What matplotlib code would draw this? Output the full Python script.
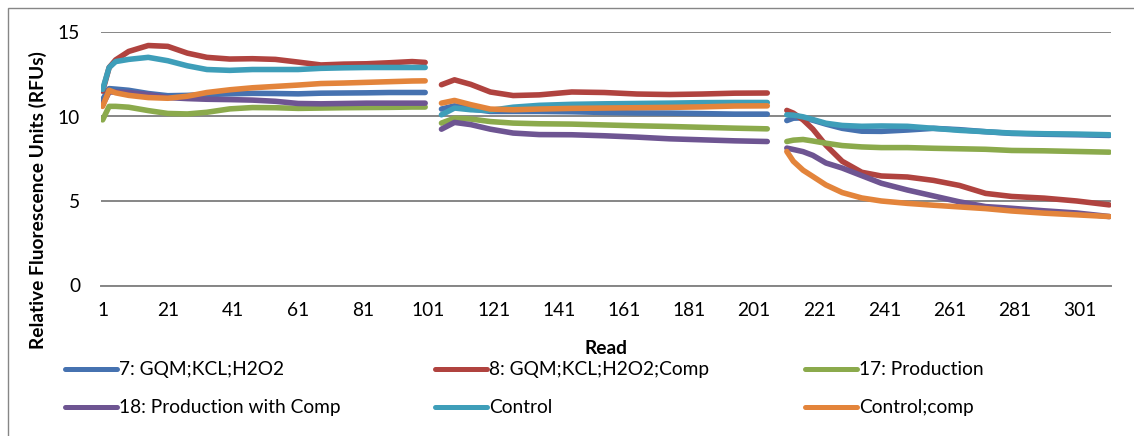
import matplotlib.pyplot as plt
from matplotlib.lines import Line2D

plt.rcParams['font.family'] = ['Lato', 'DejaVu Sans']

W, H = 1134, 436

# read numbers sampled along each of the three measurement blocks
reads_a = [1, 3, 5, 9, 15, 21, 27, 33, 40, 47, 54, 61, 68, 75, 82, 89, 96, 100]
reads_b = [105, 109, 114, 120, 127, 135, 145, 155, 165, 175, 185, 195, 205]
reads_c = [211, 213, 216, 219, 223, 228, 234, 240, 248, 256, 264, 272, 280, 290, 300, 310]

gqm_a = [11.0, 11.65, 11.62, 11.55, 11.36, 11.23, 11.25, 11.3, 11.34, 11.37, 11.36, 11.34, 11.38, 11.39, 11.4, 11.42, 11.42, 11.42]
gqm_b = [10.44, 10.63, 10.45, 10.3, 10.3, 10.3, 10.28, 10.24, 10.21, 10.2, 10.17, 10.14, 10.14]
gqm_c = [9.76, 9.9, 9.92, 9.78, 9.55, 9.3, 9.13, 9.12, 9.2, 9.3, 9.22, 9.1, 9.0, 8.95, 8.92, 8.88]

gqm_comp_a = [11.5, 12.9, 13.35, 13.85, 14.2, 14.15, 13.75, 13.5, 13.4, 13.42, 13.38, 13.22, 13.05, 13.1, 13.12, 13.18, 13.25, 13.2]
gqm_comp_b = [11.88, 12.17, 11.9, 11.45, 11.24, 11.28, 11.45, 11.42, 11.33, 11.3, 11.33, 11.38, 11.39]
gqm_comp_c = [10.36, 10.2, 9.8, 9.25, 8.3, 7.35, 6.7, 6.48, 6.42, 6.22, 5.92, 5.45, 5.27, 5.17, 5.0, 4.77]

prod_a = [9.8, 10.6, 10.6, 10.55, 10.35, 10.18, 10.15, 10.25, 10.45, 10.53, 10.52, 10.48, 10.5, 10.52, 10.53, 10.54, 10.56, 10.56]
prod_b = [9.61, 9.9, 9.85, 9.7, 9.61, 9.57, 9.55, 9.5, 9.45, 9.41, 9.36, 9.31, 9.27]
prod_c = [8.52, 8.6, 8.64, 8.55, 8.42, 8.28, 8.2, 8.16, 8.16, 8.12, 8.09, 8.06, 7.99, 7.97, 7.93, 7.89]

prod_comp_a = [10.7, 11.45, 11.45, 11.42, 11.3, 11.12, 11.06, 11.02, 11.0, 10.97, 10.9, 10.77, 10.75, 10.77, 10.79, 10.79, 10.79, 10.79]
prod_comp_b = [9.25, 9.65, 9.52, 9.25, 9.02, 8.93, 8.92, 8.86, 8.78, 8.68, 8.62, 8.56, 8.52]
prod_comp_c = [8.13, 8.05, 7.92, 7.7, 7.25, 6.95, 6.5, 6.05, 5.65, 5.3, 4.95, 4.67, 4.57, 4.42, 4.29, 4.08]

control_a = [11.6, 12.9, 13.25, 13.38, 13.5, 13.3, 13.0, 12.78, 12.73, 12.78, 12.78, 12.78, 12.85, 12.88, 12.9, 12.9, 12.9, 12.9]
control_b = [10.1, 10.5, 10.4, 10.36, 10.55, 10.66, 10.72, 10.75, 10.77, 10.79, 10.82, 10.83, 10.83]
control_c = [10.1, 10.08, 9.98, 9.82, 9.6, 9.47, 9.42, 9.44, 9.42, 9.3, 9.18, 9.1, 9.02, 8.98, 8.96, 8.92]

control_comp_a = [10.6, 11.55, 11.4, 11.25, 11.12, 11.08, 11.2, 11.42, 11.58, 11.7, 11.78, 11.86, 11.95, 11.98, 12.02, 12.06, 12.1, 12.11]
control_comp_b = [10.79, 10.95, 10.7, 10.44, 10.4, 10.44, 10.48, 10.5, 10.52, 10.54, 10.57, 10.62, 10.63]
control_comp_c = [7.93, 7.35, 6.82, 6.45, 5.95, 5.5, 5.18, 5.0, 4.86, 4.75, 4.65, 4.55, 4.41, 4.28, 4.18, 4.08]

labels = ['7: GQM;KCL;H2O2', '8: GQM;KCL;H2O2;Comp', '17: Production',
          '18: Production with Comp', 'Control', 'Control;comp']
colors = ['#4672B0', '#B0433F', '#8BAA4C', '#6E5592', '#3E9EB9', '#E3843B']
series = [
    (gqm_a, gqm_b, gqm_c),
    (gqm_comp_a, gqm_comp_b, gqm_comp_c),
    (prod_a, prod_b, prod_c),
    (prod_comp_a, prod_comp_b, prod_comp_c),
    (control_a, control_b, control_c),
    (control_comp_a, control_comp_b, control_comp_c),
]
tick_reads = list(range(1, 302, 20))
fs = 13.8

fig = plt.figure(figsize=(W / 100, H / 100), dpi=100)

# chart frame
fig.add_artist(plt.Rectangle((7.5 / W, -0.1), 1.2, 1 - 7.5 / H + 0.1,
                             transform=fig.transFigure, fill=False,
                             edgecolor='#868686', lw=1.0))

ax = fig.add_axes([101 / W, 1 - 285.5 / H, 1010 / W, 253.5 / H])
for vals, col in zip(series, colors):
    for xs, ys in zip((reads_a, reads_b, reads_c), vals):
        ax.plot(xs, ys, color=col, lw=4.0, solid_capstyle='round',
                solid_joinstyle='round')

ax.set_xlim(0.5, 310.5)
ax.set_ylim(0, 15)
ax.set_yticks([0, 5, 10, 15])
ax.set_xticks(tick_reads)
ax.set_xticklabels([str(t) for t in tick_reads])
ax.grid(axis='y', color='#868686', lw=1.4)
ax.set_axisbelow(True)
for side in ['top', 'right', 'left']:
    ax.spines[side].set_visible(False)
ax.spines['bottom'].set_color('#868686')
ax.spines['bottom'].set_linewidth(1.4)
ax.tick_params(axis='both', length=0, labelsize=fs, colors='black')
ax.tick_params(axis='y', pad=15)
ax.tick_params(axis='x', pad=12)

fig.text(38 / W, 1 - 200 / H, 'Relative Fluorescence Units (RFUs)',
         rotation=90, ha='center', va='center', fontsize=fs, weight='bold')
fig.text(606 / W, 1 - 348 / H, 'Read', ha='center', va='center',
         fontsize=fs, weight='bold')

# legend: three entries per row, equal-width columns
col_x = [65, 435, 805]
row_y = [369, 407]
for i, (lab, col) in enumerate(zip(labels, colors)):
    x0 = col_x[i % 3]
    y0 = 1 - row_y[i // 3] / H
    fig.add_artist(Line2D([x0 / W, (x0 + 52) / W], [y0, y0], color=col,
                          lw=3.6, solid_capstyle='round'))
    fig.text((x0 + 54) / W, y0, lab, ha='left', va='center', fontsize=fs)

fig.savefig('out.png', dpi=100)
